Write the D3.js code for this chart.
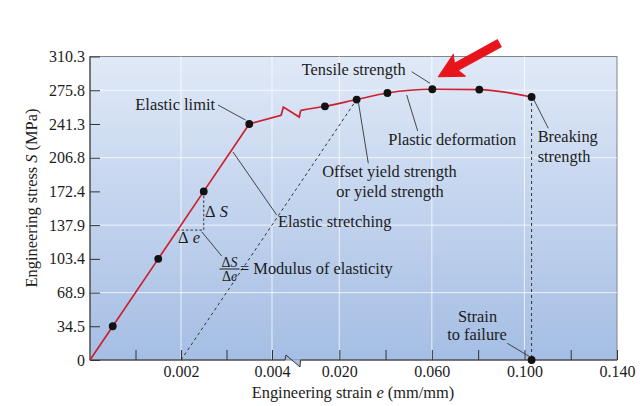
<!DOCTYPE html>
<html>
<head>
<meta charset="utf-8">
<script src="https://d3js.org/d3.v7.min.js"></script>
<style>
  body { margin: 0; background: #fff; }
  text { font-family: "Liberation Serif", "Times New Roman", serif; fill: #1c1c1c; }
</style>
</head>
<body>
<svg id="chart" width="642" height="406"></svg>
<script>
// stress axis (MPa)
const yTicks = [0, 34.5, 68.9, 103.4, 137.9, 172.4, 206.8, 241.3, 275.8, 310.3];
const yGrid = [68.9, 137.9, 206.8, 275.8];
// strain axis, split by the break: fine part and coarse part
const xTicksLow = [0.001, 0.002, 0.003, 0.004];
const xLabelsLow = [0.002, 0.004];
const xTicksHigh = [0.02, 0.04, 0.06, 0.08, 0.10, 0.12];
const xLabelsHigh = [0.020, 0.060, 0.100, 0.140];
const xGridLow = [0.002, 0.004];
const xGridHigh = [0.02, 0.06, 0.10];

// curve, elastic part (fine scale) incl. start of break
const elasticStrain = [0, 0.0005, 0.0015, 0.0025, 0.0035, 0.0042, 0.00425];
const elasticStress = [0, 34.5, 103.4, 172.4, 241.3, 250.2, 258.6];
const elasticDots = [1, 2, 3, 4];
// curve, plastic part (coarse scale) incl. end of break
const plasticStrain = [0.0027, 0.0033, 0.0138, 0.0275, 0.0408, 0.0602, 0.0805, 0.1031];
const plasticStress = [248.4, 255.2, 259.4, 266.3, 273.0, 276.8, 276.5, 268.9];
const plasticDots = [2, 3, 4, 5, 6, 7];

const offsetStrain = 0.002;      // 0.2% offset
const yieldIndex = 3;            // offset yield strength point
const breakIndex = 7;            // breaking strength point
const deltaStress = 132.8;       // bottom of the ΔS/Δe triangle
const deltaIndex = 3;

const svgArea = { width: 642, height: 406 };
const margin = { top: 56.5, right: 25, bottom: 46, left: 90 };
const container = d3.select('#chart');
const bottom = svgArea.height - margin.bottom;
const right = svgArea.width - margin.right;
const labelSize = 16.4;
const tickSize = 16;

const xLow = d3.scaleLinear().domain([0, 0.0045]).range([margin.left, 294.75]);
const xHigh = d3.scaleLinear().domain([0, 0.14]).range([293, right]);
const yScale = d3.scaleLinear().domain([0, 310.3]).range([bottom, margin.top]);
const xBreak = xHigh(0);

// background gradient
const grad = container.append('defs').append('linearGradient')
    .attr('id', 'bg').attr('x1', 0).attr('y1', 0).attr('x2', 0).attr('y2', 1);
grad.append('stop').attr('offset', '0%').attr('stop-color', '#e0e9f7');
grad.append('stop').attr('offset', '100%').attr('stop-color', '#a5bee4');

container.append('rect')
    .attr('x', margin.left).attr('y', margin.top)
    .attr('width', right - margin.left).attr('height', bottom - margin.top)
    .attr('fill', 'url(#bg)')
    .attr('stroke', '#80848c').attr('stroke-width', 1);

// little notch of the axis break
container.append('path')
    .attr('d', `M${xBreak - 0.5},${bottom} L${xBreak + 7},${bottom + 7} L${xBreak + 7},${bottom} Z`)
    .attr('fill', '#a5bee4');

// grid
const grid = container.append('g').attr('stroke', '#fff').attr('stroke-opacity', 0.75).attr('stroke-width', 1);
grid.selectAll('.gx')
    .data(xGridLow.map(d => xLow(d)).concat(xGridHigh.map(d => xHigh(d))))
    .join('line')
    .attr('x1', d => d).attr('x2', d => d)
    .attr('y1', margin.top).attr('y2', bottom);
grid.selectAll('.gy')
    .data(yGrid)
    .join('line')
    .attr('x1', margin.left).attr('x2', right)
    .attr('y1', d => yScale(d)).attr('y2', d => yScale(d));

// y axis
const yAxis = d3.axisLeft(yScale)
    .tickValues(yTicks)
    .tickSizeInner(-10).tickSizeOuter(0)
    .tickPadding(5)
    .tickFormat(d => d === 0 ? '0' : d3.format('.1f')(d));
container.append('g')
    .attr('transform', `translate(${margin.left},0)`)
    .call(yAxis)
    .call(g => g.select('.domain').remove())
    .call(g => g.selectAll('.tick line').attr('stroke', '#333'))
    .call(g => g.selectAll('.tick text').attr('font-size', tickSize)
        .attr('font-family', '"Liberation Serif", serif').attr('fill', '#1c1c1c'));

// x axes, both sides of the break
const xAxisLow = d3.axisBottom(xLow)
    .tickValues(xTicksLow)
    .tickSizeInner(-10).tickSizeOuter(0)
    .tickFormat(d => xLabelsLow.some(v => Math.abs(v - d) < 1e-9) ? d3.format('.3f')(d) : '');
const xAxisHigh = d3.axisBottom(xHigh)
    .tickValues(xTicksHigh.concat([0.14]))
    .tickSizeInner(-10).tickSizeOuter(0)
    .tickFormat(d => xLabelsHigh.some(v => Math.abs(v - d) < 1e-9) ? d3.format('.3f')(d) : '');
[xAxisLow, xAxisHigh].forEach(ax => {
    container.append('g')
        .attr('transform', `translate(0,${bottom})`)
        .call(ax)
        .call(g => g.select('.domain').remove())
        .call(g => g.selectAll('.tick line').attr('stroke', '#333'))
        .call(g => g.selectAll('.tick text').attr('font-size', tickSize).attr('dy', '0.9em')
            .attr('font-family', '"Liberation Serif", serif').attr('fill', '#1c1c1c'));
});

// axis lines, bottom one with break
container.append('path')
    .attr('d', `M${margin.left},${margin.top} L${margin.left},${bottom}`)
    .attr('stroke', '#333').attr('fill', 'none');
container.append('path')
    .attr('d', `M${margin.left},${bottom} L${xBreak - 8},${bottom} L${xBreak - 7},${bottom - 5} L${xBreak + 7},${bottom + 7} L${xBreak + 7.5},${bottom} L${right},${bottom}`)
    .attr('stroke', '#333').attr('fill', 'none').attr('stroke-width', 1);

// axis titles
container.append('text')
    .attr('x', 353).attr('y', 398)
    .attr('text-anchor', 'middle').attr('font-size', labelSize)
    .html('Engineering strain <tspan font-style="italic">e</tspan> (mm/mm)');
container.append('text')
    .attr('transform', 'translate(37,198) rotate(-90)')
    .attr('text-anchor', 'middle').attr('font-size', labelSize)
    .html('Engineering stress <tspan font-style="italic">S</tspan> (MPa)');

// dashed helpers
const dashed = container.append('g')
    .attr('stroke', '#333').attr('stroke-width', 1).attr('stroke-dasharray', '3,3').attr('fill', 'none');
dashed.append('line')
    .attr('x1', xLow(offsetStrain)).attr('y1', yScale(0))
    .attr('x2', xHigh(plasticStrain[yieldIndex])).attr('y2', yScale(plasticStress[yieldIndex]));
dashed.append('line')
    .attr('x1', xHigh(plasticStrain[breakIndex])).attr('y1', yScale(plasticStress[breakIndex]))
    .attr('x2', xHigh(plasticStrain[breakIndex])).attr('y2', yScale(0));
const slope = elasticStress[deltaIndex] / elasticStrain[deltaIndex];
dashed.append('polyline')
    .attr('stroke-dasharray', '2.5,2')
    .attr('points', [
        [xLow(elasticStrain[deltaIndex]), yScale(elasticStress[deltaIndex])],
        [xLow(elasticStrain[deltaIndex]), yScale(deltaStress)],
        [xLow(deltaStress / slope), yScale(deltaStress)]
    ].map(p => p.join(',')).join(' '));

// curve
const ptsLow = elasticStrain.map((e, i) => [xLow(e), yScale(elasticStress[i])]);
const ptsHigh = plasticStrain.map((e, i) => [xHigh(e), yScale(plasticStress[i])]);
const red = '#cc1f2f';
container.append('path')
    .attr('d', d3.line()(ptsLow.concat(ptsHigh.slice(0, 2))))
    .attr('stroke', red).attr('stroke-width', 1.7).attr('fill', 'none');
container.append('path')
    .attr('d', d3.line().curve(d3.curveMonotoneX)(ptsHigh.slice(1)))
    .attr('stroke', red).attr('stroke-width', 1.7).attr('fill', 'none');

const dots = elasticDots.map(i => ptsLow[i])
    .concat(plasticDots.map(i => ptsHigh[i]))
    .concat([[xHigh(plasticStrain[breakIndex]), yScale(0)]]);
container.append('g').selectAll('circle')
    .data(dots)
    .join('circle')
    .attr('cx', d => d[0]).attr('cy', d => d[1]).attr('r', 3.9)
    .attr('fill', '#111');

// annotations
const leaders = [
    [218, 105, 245.5, 120],
    [411.7, 71.7, 430, 83.3],
    [406.7, 95, 417.7, 131],
    [358.3, 101.7, 368.3, 163.3],
    [534, 100, 548.3, 128.3],
    [233, 152, 276.7, 215],
    [201.7, 231.7, 221.7, 256],
    [507.3, 343.3, 530.7, 357.3]
];
container.append('g').selectAll('line')
    .data(leaders)
    .join('line')
    .attr('x1', d => d[0]).attr('y1', d => d[1])
    .attr('x2', d => d[2]).attr('y2', d => d[3])
    .attr('stroke', '#333').attr('stroke-width', 0.9);

const labels = [
    { text: 'Elastic limit', x: 215, y: 109.5, anchor: 'end' },
    { text: 'Tensile strength', x: 301.7, y: 75, anchor: 'start' },
    { text: 'Plastic deformation', x: 388.3, y: 145, anchor: 'start' },
    { text: 'Offset yield strength', x: 389.5, y: 177.3, anchor: 'middle' },
    { text: 'or yield strength', x: 390, y: 197.3, anchor: 'middle' },
    { text: 'Breaking', x: 537.7, y: 141.7, anchor: 'start' },
    { text: 'strength', x: 537.7, y: 161.7, anchor: 'start' },
    { text: 'Elastic stretching', x: 278, y: 227, anchor: 'start' },
    { text: 'Strain', x: 477.5, y: 321.7, anchor: 'middle' },
    { text: 'to failure', x: 477, y: 340, anchor: 'middle' },
    { text: '= Modulus of elasticity', x: 240, y: 273.5, anchor: 'start' }
];
container.append('g').selectAll('text')
    .data(labels)
    .join('text')
    .attr('x', d => d.x).attr('y', d => d.y)
    .attr('text-anchor', d => d.anchor)
    .attr('font-size', labelSize)
    .text(d => d.text);

// delta symbols
container.append('text').attr('x', 205).attr('y', 217).attr('font-size', labelSize)
    .html('Δ<tspan font-style="italic"> S</tspan>');
container.append('text').attr('x', 178).attr('y', 243).attr('font-size', labelSize)
    .html('Δ<tspan font-style="italic"> e</tspan>');
container.append('text').attr('x', 229.5).attr('y', 266.5).attr('font-size', 14).attr('text-anchor', 'middle')
    .html('Δ<tspan font-style="italic">S</tspan>');
container.append('text').attr('x', 229.5).attr('y', 281).attr('font-size', 14).attr('text-anchor', 'middle')
    .html('Δ<tspan font-style="italic">e</tspan>');
container.append('line')
    .attr('x1', 219.5).attr('x2', 239.5).attr('y1', 269).attr('y2', 269)
    .attr('stroke', '#222').attr('stroke-width', 1);

// red pointer arrow at tensile strength
const tip = [438.3, 76.7], tail = [499.3, 43.3];
const ang = Math.atan2(tail[1] - tip[1], tail[0] - tip[0]) * 180 / Math.PI;
const len = Math.hypot(tail[0] - tip[0], tail[1] - tip[1]);
container.append('path')
    .attr('transform', `translate(${tip[0]},${tip[1]}) rotate(${ang})`)
    .attr('d', `M0,0 L24,-12.5 L20.5,-4 L${len},-4 L${len},4 L20.5,4 L24,12.5 Z`)
    .attr('fill', '#e8141c')
    .attr('stroke', '#e8141c').attr('stroke-width', 1).attr('stroke-linejoin', 'round');
</script>
</body>
</html>
